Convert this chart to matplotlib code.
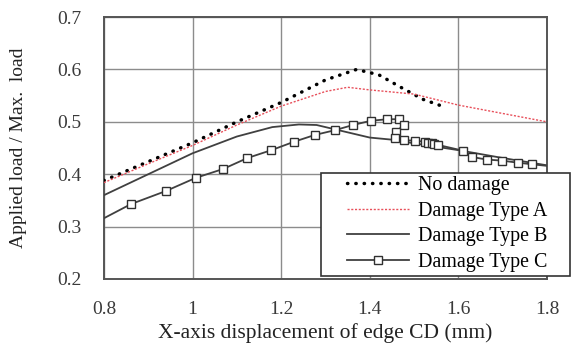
import matplotlib
matplotlib.use("Agg")
import matplotlib.pyplot as plt
from matplotlib.patches import Rectangle

plt.rcParams["font.family"] = ["Liberation Serif", "DejaVu Serif"]

# Normalised load vs. displacement of edge CD
nd_x = [0.80, 0.90, 1.00, 1.10, 1.20, 1.30, 1.37, 1.42, 1.47, 1.52, 1.57]
nd_y = [0.388, 0.424, 0.460, 0.500, 0.537, 0.580, 0.600, 0.590, 0.566, 0.543, 0.528]

a_x = [0.80, 0.90, 1.00, 1.10, 1.20, 1.30, 1.35, 1.40, 1.50, 1.60, 1.70, 1.80]
a_y = [0.384, 0.420, 0.455, 0.494, 0.530, 0.558, 0.566, 0.561, 0.553, 0.532, 0.516, 0.500]

b_x = [0.80, 0.90, 1.00, 1.10, 1.18, 1.24, 1.28, 1.33, 1.40, 1.45, 1.50, 1.60, 1.70, 1.80]
b_y = [0.360, 0.400, 0.440, 0.472, 0.490, 0.495, 0.494, 0.484, 0.470, 0.466, 0.459, 0.446, 0.431, 0.417]

c_x = [0.80, 0.861, 0.940, 1.007, 1.069, 1.124, 1.178, 1.229, 1.276, 1.321, 1.362,
       1.402, 1.439, 1.466, 1.477, 1.459, 1.457, 1.477, 1.502, 1.525, 1.531, 1.540,
       1.545, 1.554, 1.610, 1.630, 1.664, 1.698, 1.735, 1.766, 1.80]
c_y = [0.316, 0.343, 0.368, 0.393, 0.410, 0.431, 0.446, 0.462, 0.475, 0.484, 0.494,
       0.502, 0.505, 0.505, 0.494, 0.481, 0.470, 0.465, 0.464, 0.462, 0.460, 0.459,
       0.457, 0.456, 0.445, 0.433, 0.428, 0.426, 0.422, 0.419, 0.416]

labels = ["No damage", "Damage Type A", "Damage Type B", "Damage Type C"]
x_ticks = [0.8, 1.0, 1.2, 1.4, 1.6, 1.8]
x_tick_labels = ["0.8", "1", "1.2", "1.4", "1.6", "1.8"]
y_ticks = [0.2, 0.3, 0.4, 0.5, 0.6, 0.7]

fig = plt.figure(figsize=(5.71, 3.49), dpi=100)
ax = fig.add_axes([0.182, 0.2006, 0.776, 0.7504])

ax.plot(nd_x, nd_y, color="black", linestyle=(0, (0.1, 2.3)), linewidth=2.5,
        dash_capstyle="round", label=labels[0], zorder=3)
ax.plot(a_x, a_y, color="#e8505b", linestyle=(0, (1.5, 1.2)), linewidth=1.0,
        label=labels[1], zorder=3)
ax.plot(b_x, b_y, color="#404040", linewidth=1.3, label=labels[2], zorder=3)
ax.plot(c_x, c_y, color="#404040", linewidth=1.3, marker="s", markersize=6,
        markerfacecolor="white", markeredgecolor="#303030", markeredgewidth=1.0,
        markevery=list(range(1, len(c_x) - 1)), label=labels[3], zorder=4)

ax.set_xlim(0.8, 1.8)
ax.set_ylim(0.2, 0.7)
ax.set_xticks(x_ticks)
ax.set_xticklabels(x_tick_labels)
ax.set_yticks(y_ticks)
ax.grid(True, color="#8c8c8c", linewidth=1.0)
ax.set_axisbelow(True)
for s in ax.spines.values():
    s.set_color("#555555")
    s.set_linewidth(1.4)
ax.tick_params(length=0, labelsize=14, colors="#3a3a3a")
ax.tick_params(axis="y", pad=16)
ax.tick_params(axis="x", pad=16)

ax.set_xlabel("X-axis displacement of edge CD (mm)", fontsize=15.5, color="#222222")
ax.xaxis.set_label_coords(0.5, -0.17)
ax.set_ylabel("Applied load / Max.  load", fontsize=14, color="#222222")
ax.yaxis.set_label_coords(-0.193, 0.5)
ax.yaxis.label.set_va("center")

# Legend box reaching past the right edge of the plot area
frame = Rectangle((321 / 571, 1 - 276 / 349), 249 / 571, 103 / 349,
                  transform=fig.transFigure, facecolor="white",
                  edgecolor="#333333", linewidth=1.2, zorder=9)
fig.patches.append(frame)
leg = fig.legend(*ax.get_legend_handles_labels(), loc="center",
                 bbox_to_anchor=(447 / 571, 1 - 224 / 349),
                 frameon=False, fontsize=14.4, handlelength=3.1,
                 handletextpad=0.45, labelspacing=0.32, borderpad=0.0)
leg.set_zorder(10)

fig.savefig("out.png", dpi=100)
